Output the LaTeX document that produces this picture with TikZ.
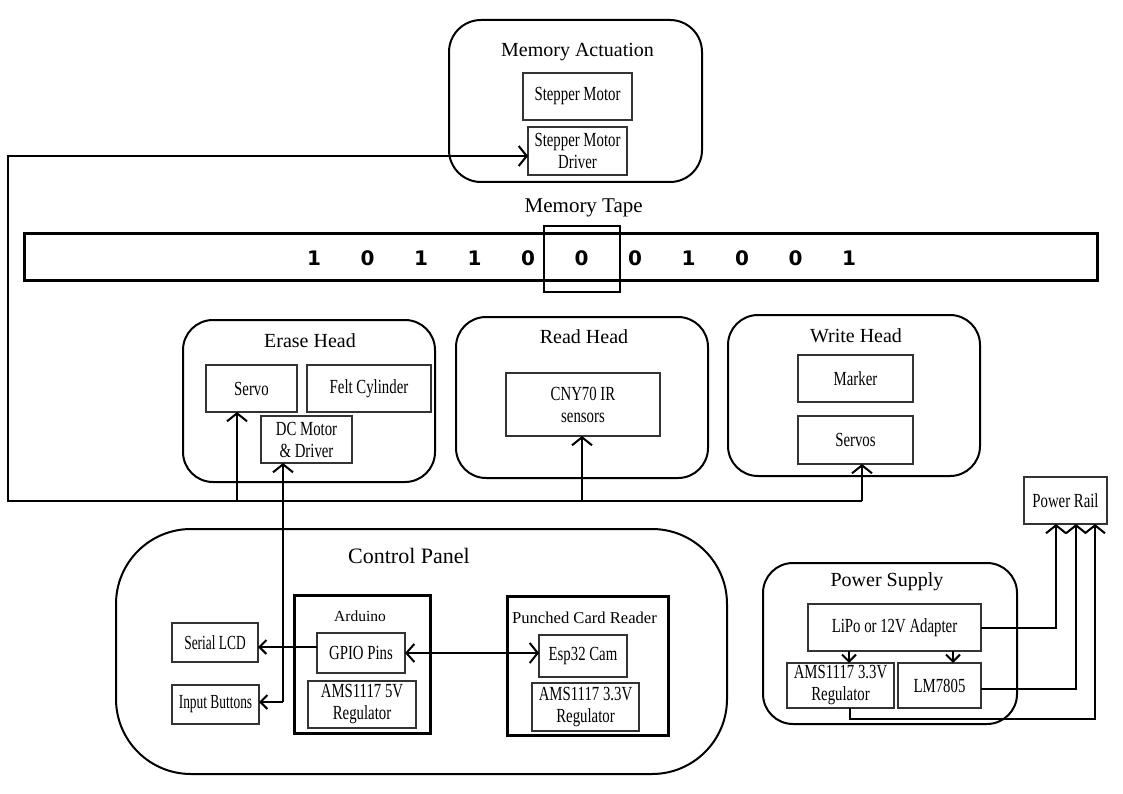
\documentclass[tikz,border=0pt]{standalone}
\usepackage{fontspec}
\setmainfont{Liberation Serif}
\newfontfamily\nf[FakeStretch=0.74]{Liberation Serif}
\newfontfamily\nnf[FakeStretch=0.67]{Liberation Serif}
\newfontfamily\df{DejaVu Sans}
\usetikzlibrary{arrows.meta,calc}
\begin{document}
\begin{tikzpicture}[x=1pt,y=-1pt,
  wh/.style n args={2}{minimum width=#1pt,minimum height=#2pt},
  outer/.style={draw,line width=2pt,rounded corners=#1,inner sep=0pt,outer sep=0pt},
  ibox/.style={draw=black!80,line width=1.2pt,inner sep=0pt,outer sep=0pt,align=center,font=\nf\fontsize{20}{22}\selectfont},
  tbox/.style={draw,line width=3pt,inner sep=0pt,outer sep=0pt},
  title/.style={anchor=base,inner sep=0pt,font=\fontsize{20}{24}\selectfont},
  digit/.style={inner sep=0pt,font=\df\bfseries\fontsize{20}{24}\selectfont},
  conn/.style={line width=2pt},
  arr/.style={-{Straight Barb[length=8pt,width=20pt]}},
  sarr/.style={-{Straight Barb[length=7pt,width=14pt]}},
]
\useasboundingbox (0,0) rectangle (1123,794);

% ---------- Memory actuation ----------
\node[outer=32pt,wh={253}{162}] (memact) at (575.5,101) {};
\node[title] (memactT) at (577.5,57) {Memory Actuation};
\node[ibox,wh={109}{47}] (stepper) at (577.5,96.5) {Stepper Motor};
\node[ibox,wh={99}{48}] (driver) at (577.5,151) {Stepper Motor\\Driver};

% ---------- Memory tape ----------
\node[title,font=\fontsize{21}{25}\selectfont] (tapeT) at (583.7,213) {Memory Tape};
\node[draw,line width=3pt,inner sep=0pt,outer sep=0pt,wh={1073}{46}] (tape) at (560.5,257) {};
\foreach \d [count=\i from 0] in {1,0,1,1,0,0,0,1,0,0,1}
  \node[digit] (dg\i) at (314+53.5*\i,258) {\d};
\node[draw,line width=2pt,inner sep=0pt,outer sep=0pt,wh={76}{66}] (cell) at (582,259) {};

% ---------- Heads ----------
\node[outer=30pt,wh={252}{162}] (erase) at (309,401) {};
\node[title] (eraseT) at (310,347) {Erase Head};
\node[ibox,wh={91}{47}] (servo) at (251.5,388.5) {Servo};
\node[ibox,wh={124}{47}] (felt) at (369,388.5) {Felt Cylinder};
\node[ibox,wh={91}{47}] (dc) at (306.5,439.5) {DC Motor\\\& Driver};

\node[outer=30pt,wh={252}{161}] (read) at (582,397.5) {};
\node[title] (readT) at (584,343) {Read Head};
\node[ibox,wh={154}{63}] (cny) at (583,404.5) {CNY70 IR\\sensors};

\node[outer=30pt,wh={252}{161}] (write) at (854,395.5) {};
\node[title] (writeT) at (856,342) {Write Head};
\node[ibox,wh={115}{47}] (marker) at (855.5,378.5) {Marker};
\node[ibox,wh={115}{48}] (servos) at (855.5,440) {Servos};

\node[ibox,wh={83}{47}] (rail) at (1065.5,500.5) {Power Rail};

% ---------- Control panel ----------
\node[outer=75pt,wh={611}{245}] (control) at (421.5,651.5) {};
\node[title,font=\fontsize{22}{26}\selectfont] (controlT) at (409,563) {Control Panel};
\node[ibox,font=\nnf\fontsize{20}{22}\selectfont,wh={86}{39}] (lcd) at (215,642.5) {Serial LCD};
\node[ibox,font=\nnf\fontsize{20}{22}\selectfont,wh={87}{39}] (input) at (215.5,704.5) {Input Buttons};

\node[tbox,wh={136}{138}] (arduino) at (362,664) {};
\node[title,font=\fontsize{15.5}{19}\selectfont] (arduinoT) at (360,621) {Arduino};
\node[ibox,wh={88}{40}] (gpio) at (361,653) {GPIO Pins};
\node[ibox,wh={108}{47}] (ams5) at (362,704.5) {AMS1117 5V\\Regulator};

\node[tbox,wh={161}{139}] (pcr) at (587.5,665.5) {};
\node[title,font=\fontsize{16.6}{20}\selectfont] (pcrT) at (584.5,623) {Punched Card Reader};
\node[ibox,wh={88}{42}] (esp) at (583,656) {Esp32 Cam};
\node[ibox,wh={107}{48}] (ams33) at (585.5,707) {AMS1117 3.3V\\Regulator};

% ---------- Power supply ----------
\node[outer=30pt,wh={254}{161}] (psu) at (890,643.5) {};
\node[title] (psuT) at (887,586) {Power Supply};
\node[ibox,wh={173}{47}] (lipo) at (894.5,627.5) {LiPo or 12V Adapter};
\node[ibox,wh={107}{45}] (amsp) at (840.5,685.5) {AMS1117 3.3V\\Regulator};
\node[ibox,wh={83}{45}] (lm) at (939.5,685.5) {LM7805};

% ---------- Connectors ----------
\coordinate (busL) at (8,501);
\coordinate (busR) at (862,501);
\coordinate (b1) at (237,501);
\coordinate (b2) at (582,501);
\draw[conn,arr] (busR) -- (busL) |- ([yshift=-5pt]driver.west);
\draw[conn,arr] (busR) -- (busR |- servos.south);
\draw[conn,arr] (b1) -- (b1 |- servo.south);
\draw[conn,arr] (b2) -- (b2 |- cny.south);

\coordinate (dcb) at (283,702);
\draw[conn,arr] (dcb) -- (dcb |- dc.south);
\draw[conn,sarr] (dcb) -- (dcb -| input.east);
\draw[conn,sarr] ([yshift=6pt]gpio.west) -- ([yshift=6pt]gpio.west -| lcd.east);
\draw[conn,{Straight Barb[length=8pt,width=18pt]}-{Straight Barb[length=8pt,width=20pt]}] (gpio.east) -- (gpio.east -| esp.west);

\coordinate (pa) at (849,0);
\coordinate (pb) at (953,0);
\coordinate (r1) at (1056,0);
\coordinate (r2) at (1076,0);
\coordinate (r3) at (1095,719);
\coordinate (a3) at (850,719);
\draw[conn,sarr] (lipo.south -| pa) -- (amsp.north -| pa);
\draw[conn,sarr] (lipo.south -| pb) -- (lm.north -| pb);
\draw[conn,arr] (lipo.east) -| (r1 |- rail.south);
\draw[conn,arr] ([yshift=-3pt]lm.east) -| (r2 |- rail.south);
\draw[conn,arr] (a3 |- amsp.south) -- (a3) -- (r3) -- (r3 |- rail.south);
\end{tikzpicture}
\end{document}
